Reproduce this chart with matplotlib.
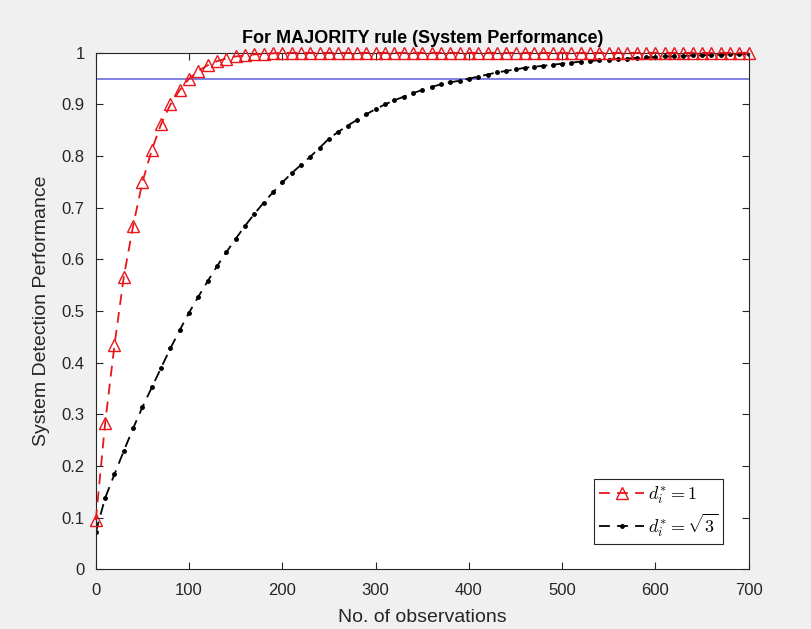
import matplotlib
matplotlib.use('Agg')
from matplotlib import pyplot as plt
import numpy as np

# observations (every 10)
obs = list(range(0, 701, 10))

# d_i* = 1 curve
red_vals = [0.095, 0.283, 0.434, 0.566, 0.665, 0.750, 0.812, 0.862, 0.900, 0.928,
            0.950, 0.965, 0.976, 0.984, 0.989, 0.993, 0.995, 0.997, 0.998, 0.999]
red_vals = red_vals + [1.0] * (len(obs) - len(red_vals))

# d_i* = sqrt(3) curve
black_vals = [0.072, 0.138, 0.184, 0.229, 0.273, 0.314, 0.352, 0.390, 0.428, 0.463,
              0.497, 0.528, 0.558, 0.587, 0.614, 0.640, 0.665, 0.688, 0.710, 0.730,
              0.749, 0.767, 0.783, 0.799, 0.816, 0.834, 0.847, 0.859, 0.870, 0.881,
              0.891, 0.900, 0.908, 0.915, 0.922, 0.928, 0.934, 0.939, 0.943, 0.946,
              0.950, 0.954, 0.958, 0.962, 0.965, 0.968, 0.971, 0.973, 0.975, 0.977,
              0.979, 0.981, 0.983, 0.984, 0.986, 0.987, 0.988, 0.989, 0.990, 0.991,
              0.992, 0.993, 0.993, 0.994, 0.995, 0.995, 0.996, 0.996, 0.997, 0.997,
              0.998]

threshold = 0.95

plt.rcParams['font.family'] = ['Liberation Sans', 'DejaVu Sans']
plt.rcParams['mathtext.fontset'] = 'cm'

fig = plt.figure(figsize=(8.12, 6.29), dpi=100, facecolor='#f0f0f0')
ax = fig.add_axes([0.118, 0.095, 0.804, 0.821])
ax.set_facecolor('white')

ax.axhline(threshold, color='#6b6be0', lw=1.2, zorder=1)
ax.plot(obs, red_vals, color='#e8151b', ls='--', dashes=(6, 4), lw=1.3,
        marker='^', markersize=9, markerfacecolor='none', markeredgecolor='#e8151b',
        markeredgewidth=1.0, label=r'$d_i^{*}=1$', zorder=3, clip_on=False)
ax.plot(obs, black_vals, color='black', ls='--', dashes=(6, 4), lw=1.3,
        marker='.', markersize=5, label=r'$d_i^{*}=\sqrt{3}$', zorder=2)

ax.set_xlim(0, 700)
ax.set_ylim(0, 1)
ax.set_xticks(range(0, 701, 100))
ax.set_yticks(np.arange(0, 1.01, 0.1))
ax.set_yticklabels(['0', '0.1', '0.2', '0.3', '0.4', '0.5', '0.6', '0.7', '0.8', '0.9', '1'])
ax.tick_params(direction='in', top=True, right=True, length=5, width=0.8,
               labelsize=12, colors='#262626', labelcolor='#262626')
ax.tick_params(axis='x', pad=10)
ax.tick_params(axis='y', pad=8)
for s in ax.spines.values():
    s.set_color('#262626')
    s.set_linewidth(0.8)

ax.set_xlabel('No. of observations', fontsize=14, color='#262626', labelpad=8)
ax.set_ylabel('System Detection Performance', fontsize=14, color='#262626', labelpad=8)
ax.set_title('For MAJORITY rule (System Performance)', fontsize=13, fontweight='bold',
             pad=7)

leg = ax.legend(loc='lower right', fontsize=13, fancybox=False, framealpha=1,
                edgecolor='#262626', borderaxespad=1.4, handlelength=2.5,
                borderpad=0.3, labelspacing=0.25, handletextpad=0.2)
leg.get_frame().set_linewidth(0.8)

fig.savefig('out.png', dpi=100, facecolor=fig.get_facecolor())
